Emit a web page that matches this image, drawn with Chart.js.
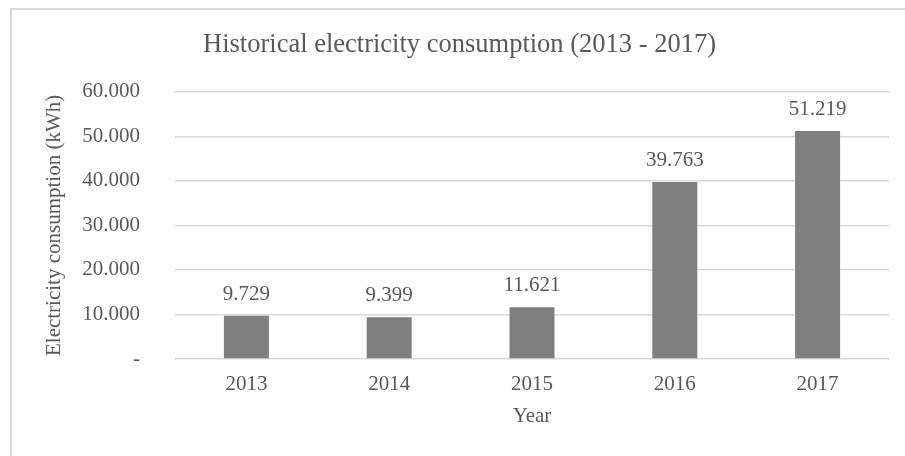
<!DOCTYPE html>
<html>
<head>
<meta charset="utf-8">
<script src="https://cdn.jsdelivr.net/npm/chart.js@4/dist/chart.umd.min.js"></script>
<style>
  body { margin: 0; background: #fff; }
  #wrap { position: relative; width: 905px; height: 456px; overflow: hidden; }
  #frame { position: absolute; left: 10px; top: 8px; width: 920px; height: 470px; border: 2px solid #d9d9d9; }
  #myChart { position: absolute; left: 0; top: 0; }
</style>
</head>
<body>
<div id="wrap">
  <div id="frame"></div>
  <canvas id="myChart" width="905" height="456"></canvas>
</div>
<script>
// du lieu
const years = ['2013', '2014', '2015', '2016', '2017'];
const consumption = [9729, 9399, 11621, 39763, 51219];
const yTicks = [0, 10000, 20000, 30000, 40000, 50000, 60000];

const textColor = '#595959';
const fontFam = '"Liberation Serif", "Times New Roman", serif';

// 60000 -> 60.000, 0 -> -
function fmt(v) {
  if (v === 0) return '-';
  return String(Math.round(v)).replace(/\B(?=(\d{3})+(?!\d))/g, '.');
}

// nhan tren cot
const barLabels = {
  id: 'barLabels',
  afterDatasetsDraw(chart) {
    const ctx = chart.ctx;
    const meta = chart.getDatasetMeta(0);
    ctx.save();
    ctx.fillStyle = textColor;
    ctx.font = '21px ' + fontFam;
    ctx.textAlign = 'center';
    ctx.textBaseline = 'bottom';
    meta.data.forEach((bar, i) => {
      ctx.fillText(fmt(consumption[i]), bar.x, bar.y - 11);
    });
    ctx.restore();
  }
};

const data = {
  labels: years,
  datasets: [{
    label: 'Electricity consumption',
    data: consumption,
    backgroundColor: '#7f7f7f',
    borderWidth: 0,
    categoryPercentage: 1,
    barPercentage: 0.315
  }]
};

const config = {
  type: 'bar',
  data: data,
  options: {
    responsive: false,
    animation: false,
    layout: {
      padding: { left: 30, right: 16, top: 0, bottom: 0 }
    },
    plugins: {
      legend: { display: false },
      tooltip: { enabled: false },
      title: {
        display: true,
        text: 'Historical electricity consumption (2013 - 2017)',
        color: textColor,
        font: { family: fontFam, size: 26.5, weight: 'normal' },
        padding: { top: 29, bottom: 31 }
      }
    },
    scales: {
      x: {
        grid: { display: false },
        border: { display: false },
        ticks: {
          color: textColor,
          font: { family: fontFam, size: 21 },
          padding: 5
        },
        title: {
          display: true,
          text: 'Year',
          color: textColor,
          font: { family: fontFam, size: 21 },
          padding: { top: 0, bottom: 27 }
        },
        afterFit(scale) { scale.height = 97; }
      },
      y: {
        min: 0,
        max: 60000,
        afterBuildTicks(scale) {
          scale.ticks = yTicks.map(v => ({ value: v }));
        },
        grid: {
          color: '#d9d9d9',
          lineWidth: 1.5,
          drawTicks: false
        },
        border: { display: false },
        ticks: {
          color: textColor,
          font: { family: fontFam, size: 21 },
          padding: 35,
          callback: (v) => fmt(v)
        },
        title: {
          display: true,
          text: 'Electricity consumption (kWh)',
          color: textColor,
          font: { family: fontFam, size: 21 },
          padding: { top: 12, bottom: 0 }
        },
        afterFit(scale) { scale.width = 145; }
      }
    }
  },
  plugins: [barLabels]
};

const ctx = document.getElementById('myChart').getContext('2d');
let myChart = new Chart(ctx, config);
</script>
</body>
</html>
